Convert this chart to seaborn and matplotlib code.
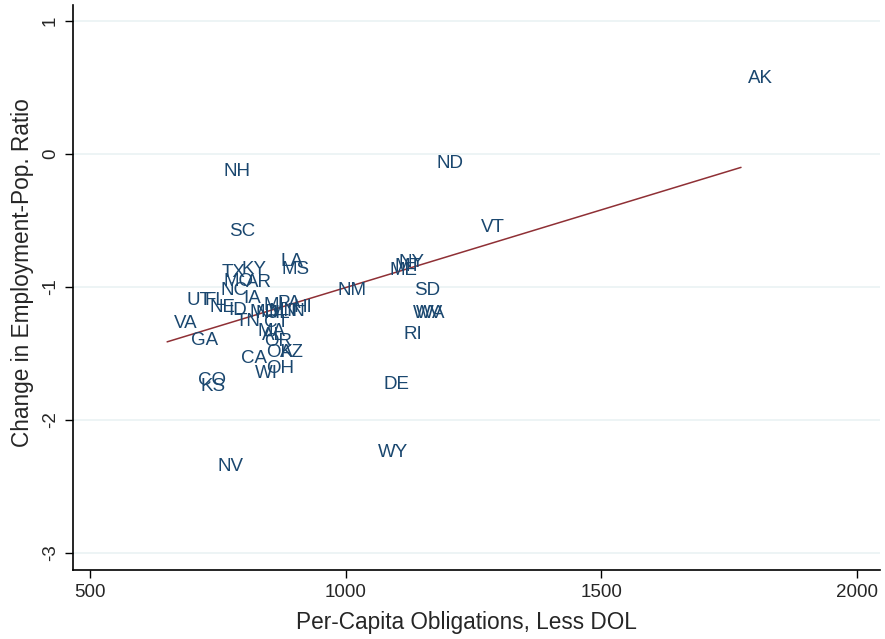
import matplotlib
matplotlib.use("Agg")
import matplotlib.pyplot as plt
import seaborn as sns
import pandas as pd
import numpy as np

states = ["AK", "ND", "VT", "NH", "SC", "LA", "MS", "TX", "KY", "MO",
          "AR", "NC", "IA", "UT", "FL", "NE", "ID", "TN", "VA", "GA",
          "MD", "NJ", "MI", "PA", "HI", "MN", "IL", "IN", "CT", "MA",
          "AL", "OR", "OK", "AZ", "CA", "WI", "OH", "CO", "KS", "NM",
          "SD", "NY", "MT", "ME", "WV", "WA", "RI", "DE", "WY", "NV"]
obligations = [1773, 1165, 1251, 748, 758, 860, 862, 744, 782, 748,
               791, 741, 787, 676, 711, 721, 756, 772, 651, 684,
               799, 811, 825, 854, 885, 836, 846, 870, 827, 815,
               823, 828, 830, 858, 782, 809, 830, 698, 703, 971,
               1120, 1090, 1081, 1073, 1118, 1124, 1100, 1061, 1049, 735]
emp_change = [0.571, -0.068, -0.549, -0.128, -0.579, -0.805, -0.865, -0.887, -0.865, -0.955,
              -0.962, -1.023, -1.083, -1.098, -1.098, -1.150, -1.173, -1.256, -1.271, -1.398,
              -1.188, -1.195, -1.135, -1.120, -1.150, -1.180, -1.195, -1.180, -1.263, -1.331,
              -1.361, -1.406, -1.489, -1.489, -1.534, -1.647, -1.609, -1.699, -1.744, -1.023,
              -1.023, -0.812, -0.842, -0.872, -1.195, -1.195, -1.353, -1.729, -2.241, -2.346]

x_ticks = [500, 1000, 1500, 2000]
y_ticks = [-3, -2, -1, 0, 1]

df = pd.DataFrame({"state": states, "x": obligations, "y": emp_change})

sns.set_style("white")
plt.rcParams["font.family"] = ["Liberation Sans", "DejaVu Sans"]

fig = plt.figure(figsize=(8.85, 6.39), dpi=100)
ax = fig.add_axes([0.0825, 0.108, 0.912, 0.884])

label_color = "#1a476f"
for s, xv, yv in zip(df["state"], df["x"], df["y"]):
    ax.annotate(s, (xv, yv), xytext=(5, -0.5), textcoords="offset points",
                ha="left", va="center", fontsize=13.5, color=label_color)

sns.regplot(data=df, x="x", y="y", scatter=False, ci=None, truncate=True,
            ax=ax, line_kws={"color": "#8f3035", "linewidth": 1.1})

ax.set_xlim(467, 2045)
ax.set_ylim(-3.128, 1.12)
ax.set_xticks(x_ticks)
ax.set_yticks(y_ticks)
ax.set_xticklabels([str(t) for t in x_ticks], fontsize=13.5)
ax.set_yticklabels([str(t) for t in y_ticks], fontsize=13.5, rotation=90, va="center")
ax.set_xlabel("Per-Capita Obligations, Less DOL", fontsize=16.3)
ax.set_ylabel("Change in Employment-Pop. Ratio", fontsize=16.3)
ax.xaxis.set_label_coords(0.487, -0.0726)
ax.yaxis.set_label_coords(-0.0483, 0.526)

for yv in y_ticks:
    ax.axhline(yv, color="#eaf2f3", linewidth=1.2, zorder=0)

for side in ["top", "right"]:
    ax.spines[side].set_visible(False)
for side in ["left", "bottom"]:
    ax.spines[side].set_color("black")
    ax.spines[side].set_linewidth(1.2)
ax.tick_params(axis="both", direction="out", length=6, width=1.0, color="black",
               left=True, bottom=True, pad=4)

fig.savefig("out.png", dpi=100, facecolor="white")
